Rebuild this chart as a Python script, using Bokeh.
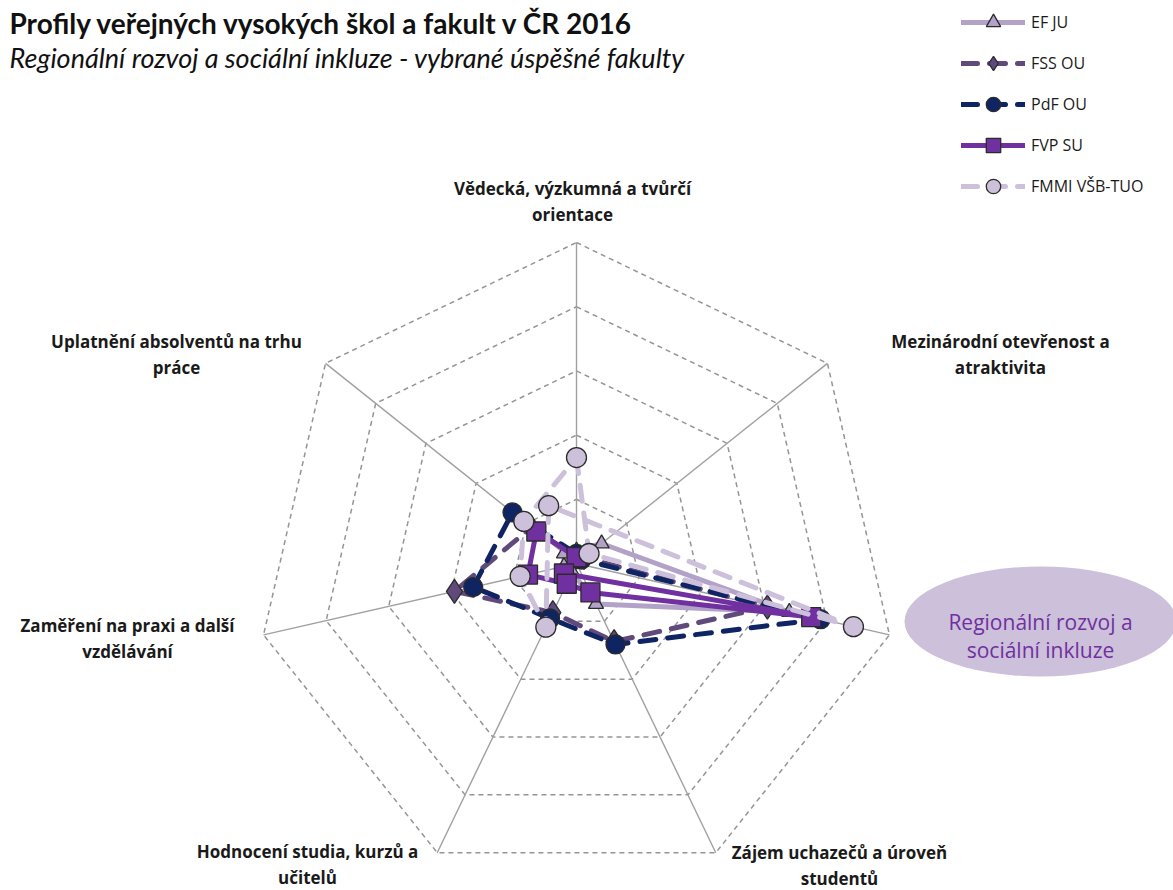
import numpy as np
from bokeh.plotting import figure
from bokeh.models import Range1d, Label, Legend, LegendItem
from bokeh.embed import file_html
from bokeh.resources import INLINE

# ---------------- data ----------------
axis_labels = [
    "Vědecká, výzkumná a tvůrčí\norientace",
    "Mezinárodní otevřenost a\natraktivita",
    "Regionální rozvoj a\nsociální inkluze",
    "Zájem uchazečů a úroveň\nstudentů",
    "Hodnocení studia, kurzů a\nučitelů",
    "Zaměření na praxi a další\nvzdělávání",
    "Uplatnění absolventů na trhu\npráce",
]
series_names = ["EF JU", "FSS OU", "PdF OU", "FVP SU", "FMMI VŠB-TUO"]
ef_ju = [0.04, 0.10, 0.68, 0.14, 0.03, 0.04, 0.05]
fss_ou = [0.02, 0.03, 0.61, 0.27, 0.17, 0.39, 0.18]
pdf_ou = [0.03, 0.02, 0.78, 0.28, 0.19, 0.33, 0.255]
fvp_su = [0.02, -0.05, 0.75, 0.10, 0.07, 0.155, 0.16]
fmmi = [0.33, 0.05, 0.885, -0.20, 0.22, 0.18, 0.21]
grid_levels = [0.2, 0.4, 0.6, 0.8, 1.0]

# ---------------- geometry (picture px -> data) ----------------
CX, CY, RPX = 576.0, 563.0, 321.0
W, H = 1173, 890

def X(px):
    return (px - CX) / RPX

def Y(py):
    return (CY - py) / RPX

n = len(axis_labels)
theta = np.arange(n) * 2 * np.pi / n
ux, uy = np.sin(theta), np.cos(theta)

p = figure(width=W, height=H, output_backend="svg", toolbar_location=None,
           x_range=Range1d(X(0), X(W)), y_range=Range1d(Y(H), Y(0)),
           x_axis_type=None, y_axis_type=None, min_border=0)
p.grid.visible = False
p.outline_line_color = None
p.background_fill_color = "white"
p.border_fill_color = "white"

FONT = "Open Sans"
TFONT = "Lato"

# grid rings
for g in grid_levels:
    xs = list(g * ux) + [g * ux[0]]
    ys = list(g * uy) + [g * uy[0]]
    p.line(xs, ys, line_color="#959595", line_width=1.5, line_dash="5 4")
# spokes
p.segment(x0=[0] * n, y0=[0] * n, x1=list(ux), y1=list(uy),
          line_color="#a0a0a0", line_width=1.4)

# highlight ellipse for regional axis
p.ellipse(x=[X(1040)], y=[Y(621)], width=[272 / RPX], height=[110 / RPX],
          fill_color="#ccc0da", line_color=None)

styles = [
    dict(vals=ef_ju, color="#b3a2c7", dash="solid", marker="triangle", fill="#b3a2c7", size=15),
    dict(vals=fss_ou, color="#604a7b", dash="16 12", marker="diamond", fill="#604a7b", size=24),
    dict(vals=pdf_ou, color="#0f2462", dash="16 12", marker="circle", fill="#0f2462", size=19),
    dict(vals=fvp_su, color="#7030a0", dash="solid", marker="square", fill="#7030a0", size=19),
    dict(vals=fmmi, color="#ccc0da", dash="16 12", marker="circle", fill="#ccc0da", size=20),
]

items = []
for name, st in zip(series_names, styles):
    v = np.array(st["vals"])
    xs = v * ux
    ys = v * uy
    lx = list(xs) + [xs[0]]
    ly = list(ys) + [ys[0]]
    lr = p.line(lx, ly, line_color=st["color"], line_width=5, line_dash=st["dash"],
                line_cap="round", line_join="round")
    sr = p.scatter(list(xs), list(ys), marker=st["marker"], size=st["size"],
                   fill_color=st["fill"], line_color="#2b2b2b", line_width=1.3)
    items.append(LegendItem(label=name, renderers=[lr, sr]))

# legend: 5 items, pitch 41 px, first item centred at y=22
GH, SP = 36, 5
leg_h = 5 * GH + 4 * SP
legend = Legend(items=items, location=(961, H - (22 - GH / 2) - leg_h),
                glyph_width=64, glyph_height=GH,
                spacing=SP, padding=0, margin=0, label_standoff=6,
                label_text_font=FONT, label_text_font_size="16px",
                label_text_color="#1a1a1a", border_line_color=None,
                background_fill_alpha=0)
p.add_layout(legend)

# axis labels (picture positions)
label_pos = [(572, 201), (1000, 354), (1040, 635), (839, 865), (307, 864), (127, 638), (176, 354)]
for i, (txt, (px, py)) in enumerate(zip(axis_labels, label_pos)):
    if i == 2:
        p.add_layout(Label(x=X(px), y=Y(py), text=txt, text_align="center",
                           text_baseline="middle", text_font=FONT,
                           text_font_size="21px", text_color="#7030a0",
                           text_line_height=1.0))
    else:
        p.add_layout(Label(x=X(px), y=Y(py), text=txt, text_align="center",
                           text_baseline="middle", text_font=FONT,
                           text_font_size="17px", text_font_style="bold",
                           text_color="#1a1a1a", text_line_height=1.1))

# titles
p.add_layout(Label(x=X(9), y=Y(5), text="Profily veřejných vysokých škol a fakult v ČR 2016",
                   text_baseline="top", text_font=TFONT, text_font_size="28px",
                   text_font_style="bold", text_color="#111111"))
p.add_layout(Label(x=X(9), y=Y(40), text="Regionální rozvoj a sociální inkluze - vybrané úspěšné fakulty",
                   text_baseline="top", text_font=TFONT, text_font_size="27px",
                   text_font_style="italic", text_color="#111111"))

open("out.html", "w").write(file_html(p, INLINE))
